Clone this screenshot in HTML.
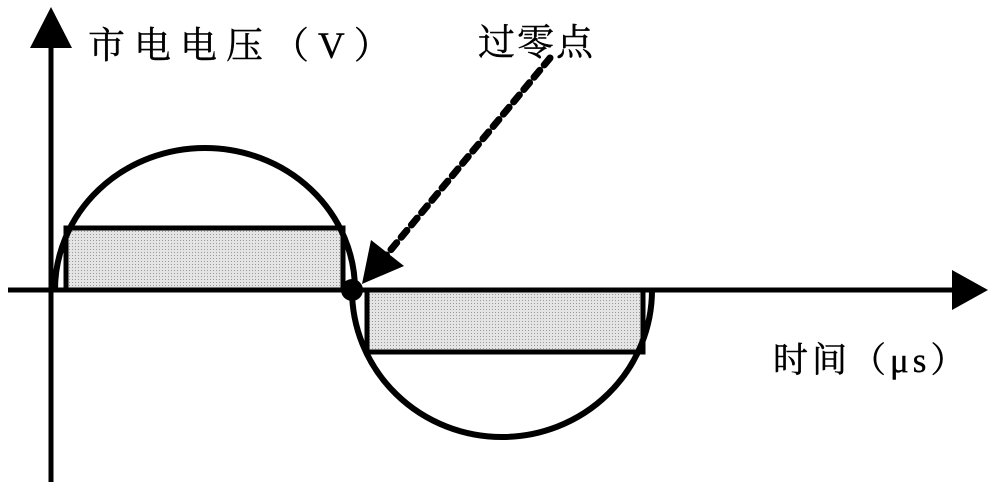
<!DOCTYPE html>
<html><head><meta charset="utf-8"><style>
html,body{margin:0;padding:0;background:#fff;}
svg{display:block}
text{font-family:"Liberation Serif","Noto Serif CJK SC",serif;fill:#000}
</style></head><body>
<svg width="1000" height="490" viewBox="0 0 1000 490">
<defs>
<pattern id="dots" width="3" height="3" patternUnits="userSpaceOnUse">
<rect width="3" height="3" fill="#e4e4e4"/><rect width="1" height="1" fill="#9a9a9a"/>
</pattern>
</defs>
<rect x="66" y="228" width="277" height="62" fill="url(#dots)" stroke="#000" stroke-width="5"/>
<rect x="367" y="290" width="276" height="62" fill="url(#dots)" stroke="#000" stroke-width="5"/>
<path d="M55 290 A150 142 0 0 1 355 290" fill="none" stroke="#000" stroke-width="6"/>
<path d="M352 290 A150 147 0 0 0 652 290" fill="none" stroke="#000" stroke-width="6"/>
<line x1="51" y1="40" x2="51" y2="482" stroke="#000" stroke-width="5"/>
<polygon points="51,7 30,48 72,48" fill="#000"/>
<line x1="8" y1="290" x2="955" y2="290" stroke="#000" stroke-width="5"/>
<polygon points="988,290 952,270 952,310" fill="#000"/>
<circle cx="352" cy="290" r="11" fill="#000"/>
<line x1="550" y1="58" x2="384" y2="258" stroke="#000" stroke-width="7" stroke-dasharray="9,7" stroke-linecap="round"/>
<polygon points="362,284 371,240 404,266" fill="#000"/>
<text x="88" y="58" font-size="37" letter-spacing="9" stroke="#000" stroke-width="0.4">市电电压（V）</text>
<text x="478" y="55" font-size="37" letter-spacing="2" stroke="#000" stroke-width="0.4">过零点</text>
<text x="773" y="372" font-size="35" letter-spacing="4" stroke="#000" stroke-width="0.4">时间（μs）</text>
</svg>
</body></html>
